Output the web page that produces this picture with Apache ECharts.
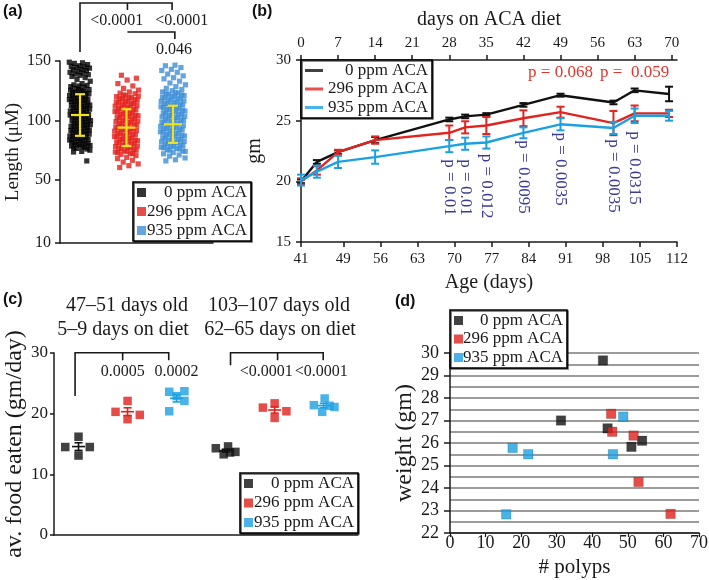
<!DOCTYPE html>
<html><head><meta charset="utf-8">
<script src="https://cdn.jsdelivr.net/npm/echarts@6/dist/echarts.min.js"></script>
<style>html,body{margin:0;padding:0;background:#fff}#c{width:709px;height:580px}</style>
</head><body><div id="c"></div>
<script>
// ================= DATA =================
const groups = ['0 ppm ACA', '296 ppm ACA', '935 ppm ACA'];

// (a) cell length (μM), individual measurements
const lengthTicks = [10, 50, 100, 150];
const length0 = [149,148.5,148,147,146,145.5,145,144.5,144,143,142.5,142,141,140.5,140,139,138.5,138,137,136,134.5,133,131,130,129.5,129,128.5,128,
127,126,125,124,123,122,121,120,119,118,117,116,115,114,113,112,111,110,109,108,107,106,105,104,103,102,101,100,99,98,97,96,95,94,93,92,91,90,89,88,87,86,85,84,83,82,81,80,79,78,77,76,
126.5,125.5,124.5,123.5,122.5,121.5,120.5,119.5,118.5,117.5,116.5,115.5,114.5,113.5,112.5,111.5,110.5,109.5,108.5,107.5,106.5,105.5,104.5,103.5,102.5,101.5,100.5,99.5,98.5,97.5,96.5,95.5,94.5,93.5,92.5,91.5,90.5,89.5,88.5,87.5,86.5,85.5,84.5,83.5,82.5,81.5,80.5,79.5,78.5,77.5,76.5,
75,74,73.5,66];
const length296 = [138,135.5,134,131,129,127,125.5,124,123,122.5,
121,120,119,118,117,116,115,114,113,112,111,110,109,108,107,106,105,104,103,102,101,100,99,98,97,96,95,94,93,92,91,90,89,88,87,86,85,84,83,82,81,80,79,78,77,76,75,74,73,72,
121.5,120.5,119.5,118.5,117.5,116.5,115.5,114.5,113.5,112.5,111.5,110.5,109.5,108.5,107.5,106.5,105.5,104.5,103.5,102.5,101.5,100.5,99.5,98.5,97.5,96.5,95.5,94.5,93.5,92.5,91.5,90.5,89.5,88.5,87.5,86.5,85.5,84.5,83.5,82.5,81.5,80.5,79.5,78.5,77.5,76.5,75.5,74.5,73.5,72.5,71.5,
70.5,69,68,66.5,65,63.5,62,60.5];
const length935 = [146.5,146,144.5,143,142,140.5,139,137.5,136,135,133,131.5,130,128.5,127,126,125,
124,123,122,121,120,119,118,117,116,115,114,113,112,111,110,109,108,107,106,105,104,103,102,101,100,99,98,97,96,95,94,93,92,91,90,89,88,87,86,85,84,83,82,81,80,79,78,77,76,75,74,
123.5,122.5,121.5,120.5,119.5,118.5,117.5,116.5,115.5,114.5,113.5,112.5,111.5,110.5,109.5,108.5,107.5,106.5,105.5,104.5,103.5,102.5,101.5,100.5,99.5,98.5,97.5,96.5,95.5,94.5,93.5,92.5,91.5,90.5,89.5,88.5,87.5,86.5,85.5,84.5,83.5,82.5,81.5,80.5,79.5,78.5,77.5,76.5,75.5,74.5,
73,72,71,70,68.5,67,66];
const lengthMean = [104.6, 94.0, 96.8];
const lengthSD = [17.5, 15.5, 15.6];
const lengthPvals = ['<0.0001', '<0.0001', '0.046'];

// (b) body weight (gm) over time
const ageTicks = [41, 49, 56, 63, 70, 77, 84, 91, 98, 105, 112];
const dietDayTicks = [0, 7, 14, 21, 28, 35, 42, 49, 56, 63, 70];
const weighAges = [41, 44, 48, 55, 69, 72, 76, 83, 90, 100, 104, 110.5];
const weight0   = [20.0, 21.6, 22.4, 23.4, 25.1, 25.35, 25.5, 26.3, 27.1, 26.5, 27.5, 27.2];
const weight0Err   = [0.15, 0.15, 0.15, 0.25, 0.15, 0.15, 0.12, 0.15, 0.12, 0.15, 0.15, 0.6];
const weight296 = [20.0, 20.9, 22.4, 23.4, 24.0, 24.45, 24.6, 25.2, 25.7, 24.8, 25.6, 25.6];
const weight296Err = [0.25, 0.35, 0.2, 0.3, 0.6, 0.5, 0.7, 0.65, 0.45, 1.0, 0.65, 0.3];
const weight935 = [20.1, 20.8, 21.6, 22.0, 22.9, 23.1, 23.2, 24.0, 24.7, 24.4, 25.4, 25.4];
const weight935Err = [0.45, 0.5, 0.5, 0.55, 0.5, 0.5, 0.5, 0.45, 0.5, 0.5, 0.6, 0.4];
const weightPAges = [69, 72, 76, 83, 90, 100, 104];
const weightPvals = ['p = 0.01', 'p = 0.01', 'p = 0.012', 'p = 0.0095', 'p = 0.0035', 'p = 0.0035', 'p = 0.0315'];
const weightTopPAges = [90, 104];
const weightTopPvals = ['p = 0.068', 'p =  0.059'];

// (c) average food eaten (gm/day)
const foodPeriods = [['47\u201351 days old', '5\u20139 days on diet'], ['103\u2013107 days old', '62\u201365 days on diet']];
const food0Early   = [14.5, 16.2, 13.1, 14.5];
const food296Early = [20.3, 22.1, 19.1, 19.8];
const food935Early = [23.6, 23.7, 20.4, 22.1, 22.9];
const food0Late    = [14.3, 14.6, 13.3, 13.7, 13.6];
const food296Late  = [21.0, 21.7, 19.3, 20.4];
const food935Late  = [21.4, 20.3, 22.5, 21.1, 21.3];
const foodPvals = [['0.0005', '0.0002'], ['<0.0001', '<0.0001']];

// (d) weight vs number of polyps
const polyps0   = [43.0, 31.2, 44.3, 54.0, 51.0];
const weightD0  = [29.67, 27.0, 26.65, 26.1, 25.83];
const polyps296 = [45.3, 45.6, 51.6, 53.0, 62.0];
const weightD296 = [27.3, 26.5, 26.33, 24.27, 22.85];
const polyps935 = [48.7, 17.6, 22.0, 45.8, 15.8];
const weightD935 = [27.17, 25.78, 25.5, 25.5, 22.83];

// ================= LAYOUT / STYLE =================
const SERIF = '"Liberation Serif","Times New Roman",serif';
const SANS = '"Liberation Sans",Arial,sans-serif';
const INK = '#1a1a1a';
const colA = ['#000000', '#e3201b', '#3d8fd6'];
const colB = ['#111111', '#e22420', '#1ba1e2'];
const colC = ['#111111', '#e0201c', '#1ba0e2'];
const YELLOW = '#f1e11c';
const PURPLE = '#3c3c98';
const PRED = '#e2352c';
const LENGTH_AXIS_FLOOR = -3; // broken axis: the "10" tick sits at the stretched bottom
const spreadA = [0.23, 0.26, 0.27];
const foodSpreadEarly = [[-0.27, 0, 0, 0.23], [-0.245, 0, 0, 0.25], [-0.15, 0.16, -0.15, 0.16, 0]];
const foodSpreadLate = [[-0.2, 0.05, -0.04, 0.2, 0.09], [-0.24, 0, 0, 0.24], [-0.2, -0.03, 0.02, 0.22, 0.12]];
// annotation geometry in data units
const aBrackets = {
  lines: [[[1, 157.6], [1, 198.7], [2.98, 198.7], [2.98, 192.9]], [[2.02, 198.7], [2.02, 192.9]], [[2.02, 174.4], [3.04, 174.4], [3.04, 168.5]]],
  labels: [[1.79, 183.6], [3.19, 183.6], [3.02, 159]]
};
const cBrackets = {
  lines: [[[0.93, 22.9], [0.93, 30.03], [2.84, 30.03], [2.84, 28.8]], [[1.90, 30.03], [1.90, 28.8]],
          [[4.10, 28.0], [4.10, 30.03], [5.99, 30.03], [5.99, 28.8]], [[5.06, 30.03], [5.06, 28.8]]],
  labels: [[1.90, 26.85], [3.00, 26.85], [4.83, 26.85], [5.95, 26.85]]
};
const weightPY = [19.49, 19.49, 19.6, 20.36, 21.0, 20.44, 21.1];
const weightTopPY = 29.0;

function swarm(i, seed) { const p = (i * 0.6180339887 + seed) % 1; return p * 2 - 1; }
const axisLineS = { show: true, onZero: false, lineStyle: { color: INK, width: 1.5 } };
function lab(size, margin, extra) { return Object.assign({ fontFamily: SERIF, fontSize: size, color: INK, margin: margin }, extra || {}); }
function nameStyle(size) { return { fontFamily: SERIF, fontSize: size, color: INK }; }

// ================= SERIES =================
const series = [];
// (a)
[length0, length296, length935].forEach((arr, g) => series.push({
  type: 'scatter', name: groups[g], xAxisIndex: 0, yAxisIndex: 0, symbol: 'rect', symbolSize: 5.2, silent: true, z: 2,
  itemStyle: { color: colA[g] },
  data: arr.map((v, i) => [g + 1 + swarm(i, g * 0.29) * spreadA[g], v])
}));
series.push({
  type: 'custom', xAxisIndex: 0, yAxisIndex: 0, z: 5, silent: true,
  data: lengthMean.map((m, g) => [g + 1, m, lengthSD[g]]),
  renderItem(params, api) {
    const x = api.value(0), m = api.value(1), s = api.value(2);
    const c = api.coord([x, m]), t = api.coord([x, m + s]), b = api.coord([x, m - s]);
    const st = { stroke: YELLOW, lineWidth: 2.2 };
    return { type: 'group', children: [
      { type: 'line', shape: { x1: c[0], y1: t[1], x2: c[0], y2: b[1] }, style: st },
      { type: 'line', shape: { x1: c[0] - 9, y1: c[1], x2: c[0] + 9, y2: c[1] }, style: st },
      { type: 'line', shape: { x1: c[0] - 5, y1: t[1], x2: c[0] + 5, y2: t[1] }, style: st },
      { type: 'line', shape: { x1: c[0] - 5, y1: b[1], x2: c[0] + 5, y2: b[1] }, style: st }] };
  }
});
function bracketSeries(xi, yi, spec, texts, fontSize) {
  return {
    type: 'custom', xAxisIndex: xi, yAxisIndex: yi, silent: true, z: 6, data: [[spec.labels[0][0], spec.labels[0][1]]],
    renderItem(params, api) {
      const children = [];
      spec.lines.forEach(pts => children.push({ type: 'polyline', shape: { points: pts.map(p => api.coord(p)) }, style: { stroke: INK, lineWidth: 1.6, fill: null } }));
      spec.labels.forEach((l, k) => { const p = api.coord(l); children.push({ type: 'text', x: p[0], y: p[1], style: { text: texts[k], fill: INK, fontSize: fontSize, fontFamily: SERIF, align: 'center', verticalAlign: 'middle' } }); });
      return { type: 'group', children };
    }
  };
}
series.push(bracketSeries(0, 0, aBrackets, lengthPvals, 16));

// (b)
const wData = [weight0, weight296, weight935];
const wErr = [weight0Err, weight296Err, weight935Err];
function errBar(color, cap, lw) {
  return function (params, api) {
    const x = api.value(0), v = api.value(1), e = api.value(2);
    const t = api.coord([x, v + e]), b = api.coord([x, v - e]);
    const st = { stroke: color, lineWidth: lw };
    return { type: 'group', children: [
      { type: 'line', shape: { x1: t[0], y1: t[1], x2: b[0], y2: b[1] }, style: st },
      { type: 'line', shape: { x1: t[0] - cap, y1: t[1], x2: t[0] + cap, y2: t[1] }, style: st },
      { type: 'line', shape: { x1: b[0] - cap, y1: b[1], x2: b[0] + cap, y2: b[1] }, style: st }] };
  };
}
wData.forEach((arr, g) => {
  series.push({ type: 'line', name: groups[g], xAxisIndex: 1, yAxisIndex: 1, symbol: 'none', z: 3 + g, silent: true,
    lineStyle: { width: 2.4, color: colB[g] }, itemStyle: { color: colB[g] },
    data: weighAges.map((a, i) => [a, arr[i]]) });
  series.push({ type: 'custom', xAxisIndex: 1, yAxisIndex: 1, z: 3 + g, silent: true,
    data: weighAges.map((a, i) => [a, arr[i], wErr[g][i]]), renderItem: errBar(colB[g], 4, 2) });
});
series.push({ type: 'custom', xAxisIndex: 1, yAxisIndex: 1, z: 8, silent: true,
  data: weightPAges.map((a, i) => [a, weightPY[i], i]),
  renderItem(params, api) {
    const p = api.coord([api.value(0), api.value(1)]);
    return { type: 'text', x: p[0], y: p[1], rotation: -Math.PI / 2,
      style: { text: weightPvals[api.value(2)], fill: PURPLE, fontSize: 17, fontFamily: SERIF, align: 'center', verticalAlign: 'middle' } };
  } });
series.push({ type: 'custom', xAxisIndex: 1, yAxisIndex: 1, z: 8, silent: true,
  data: weightTopPAges.map((a, i) => [a, weightTopPY, i]),
  renderItem(params, api) {
    const p = api.coord([api.value(0), api.value(1)]);
    return { type: 'text', x: p[0], y: p[1],
      style: { text: weightTopPvals[api.value(2)], fill: PRED, fontSize: 17, fontFamily: SERIF, align: 'center', verticalAlign: 'middle' } };
  } });

// (c)
const foodEarly = [food0Early, food296Early, food935Early];
const foodLate = [food0Late, food296Late, food935Late];
function meanSem(arr) {
  const n = arr.length, m = arr.reduce((a, b) => a + b, 0) / n;
  const sd = Math.sqrt(arr.reduce((a, b) => a + (b - m) * (b - m), 0) / (n - 1));
  return [m, sd / Math.sqrt(n)];
}
groups.forEach((n, g) => series.push({
  type: 'scatter', name: n, xAxisIndex: 3, yAxisIndex: 2, symbol: 'rect', symbolSize: 8.5, silent: true, z: 2,
  itemStyle: { color: colC[g] },
  data: foodEarly[g].map((v, i) => [g + 1 + foodSpreadEarly[g][i], v]).concat(foodLate[g].map((v, i) => [g + 4 + foodSpreadLate[g][i], v]))
}));
const foodStats = [];
groups.forEach((n, g) => {
  const e = meanSem(foodEarly[g]), l = meanSem(foodLate[g]);
  foodStats.push([g + 1, e[0], e[1], g]);
  foodStats.push([g + 4, l[0], l[1], g]);
});
series.push({ type: 'custom', xAxisIndex: 3, yAxisIndex: 2, z: 5, silent: true, data: foodStats,
  renderItem(params, api) {
    const x = api.value(0), m = api.value(1), s = api.value(2), g = api.value(3);
    const c = api.coord([x, m]), t = api.coord([x, m + s]), b = api.coord([x, m - s]);
    const st = { stroke: colC[g], lineWidth: 1.6 };
    return { type: 'group', children: [
      { type: 'line', shape: { x1: c[0], y1: t[1], x2: c[0], y2: b[1] }, style: st },
      { type: 'line', shape: { x1: c[0] - 6.5, y1: c[1], x2: c[0] + 6.5, y2: c[1] }, style: st },
      { type: 'line', shape: { x1: c[0] - 4, y1: t[1], x2: c[0] + 4, y2: t[1] }, style: st },
      { type: 'line', shape: { x1: c[0] - 4, y1: b[1], x2: c[0] + 4, y2: b[1] }, style: st }] };
  } });
series.push(bracketSeries(3, 2, cBrackets, [foodPvals[0][0], foodPvals[0][1], foodPvals[1][0], foodPvals[1][1]], 16));

// (d)
[[polyps0, weightD0], [polyps296, weightD296], [polyps935, weightD935]].forEach((pair, g) => series.push({
  type: 'scatter', name: groups[g], xAxisIndex: 4, yAxisIndex: 3, symbol: 'rect', symbolSize: 9.5, silent: true, z: 4,
  itemStyle: { color: colC[g], borderColor: 'rgba(0,0,0,0.35)', borderWidth: 0.6 },
  data: pair[0].map((p, i) => [p, pair[1][i]])
}));

// ================= LEGENDS =================
function mkLegend(left, top, icon, iw, ih, colors, gap, textW) {
  return {
    left: left, top: top, orient: 'vertical', itemWidth: iw, itemHeight: ih, itemGap: gap, padding: [2, 4, 2, 4],
    backgroundColor: '#fff', borderColor: '#000', borderWidth: 1.6, selectedMode: false, z: 20,
    shadowColor: 'rgba(0,0,0,0.6)', shadowOffsetX: 1, shadowOffsetY: 1, shadowBlur: 0,
    data: groups.map((n, i) => ({ name: n, icon: icon, itemStyle: { color: colors[i], borderWidth: 0 } })),
    formatter: n => '{t|' + n + '}',
    textStyle: { fontFamily: SERIF, fontSize: 17, color: INK,
      rich: { t: { width: textW, align: 'right', fontSize: 17, fontFamily: SERIF, color: INK, lineHeight: 18 } } }
  };
}

const option = {
  animation: false,
  backgroundColor: '#fff',
  textStyle: { fontFamily: SERIF },
  grid: [
    { left: 60, top: 61, width: 153, height: 182, containLabel: false, outerBoundsMode: 'none' },
    { left: 301, top: 60, width: 376, height: 182, containLabel: false, outerBoundsMode: 'none' },
    { left: 54, top: 353, width: 304, height: 182, containLabel: false, outerBoundsMode: 'none' },
    { left: 450, top: 353, width: 249, height: 180, containLabel: false, outerBoundsMode: 'none' }
  ],
  xAxis: [
    { gridIndex: 0, type: 'value', min: 0.57, max: 3.86, axisLine: axisLineS, axisTick: { show: false }, axisLabel: { show: false }, splitLine: { show: false } },
    { gridIndex: 1, type: 'value', position: 'bottom', min: 41, max: 112, axisLine: axisLineS,
      axisTick: { customValues: ageTicks, length: 5, lineStyle: { color: INK, width: 1.5 } },
      axisLabel: lab(15, 10, { customValues: ageTicks }), splitLine: { show: false },
      name: 'Age (days)', nameLocation: 'middle', nameGap: 31, nameTextStyle: nameStyle(20) },
    { gridIndex: 1, type: 'value', position: 'top', min: 0, max: 71, axisLine: axisLineS,
      axisTick: { customValues: dietDayTicks, length: 5, lineStyle: { color: INK, width: 1.5 } },
      axisLabel: lab(15, 9, { customValues: dietDayTicks }), splitLine: { show: false },
      name: 'days on ACA diet', nameLocation: 'middle', nameGap: 30, nameTextStyle: nameStyle(20) },
    { gridIndex: 2, type: 'value', min: 0.5, max: 6.7, axisLine: axisLineS, axisTick: { show: false }, axisLabel: { show: false }, splitLine: { show: false } },
    { gridIndex: 3, type: 'value', min: 0, max: 70, interval: 10, axisLine: axisLineS,
      axisTick: { length: 4, lineStyle: { color: INK, width: 1.2 } }, axisLabel: lab(18, 1), splitLine: { show: false },
      name: '# polyps', nameLocation: 'middle', nameGap: 24, nameTextStyle: nameStyle(21) }
  ],
  yAxis: [
    { gridIndex: 0, type: 'value', min: LENGTH_AXIS_FLOOR, max: 150, axisLine: axisLineS,
      axisTick: { customValues: lengthTicks.map(t => t === lengthTicks[0] ? LENGTH_AXIS_FLOOR : t), length: 5, lineStyle: { color: INK, width: 1.5 } },
      axisLabel: lab(16, 9, { customValues: lengthTicks.map(t => t === lengthTicks[0] ? LENGTH_AXIS_FLOOR : t),
        formatter: v => v === LENGTH_AXIS_FLOOR ? String(lengthTicks[0]) : String(v) }),
      splitLine: { show: false },
      name: 'Length (\u03bcM)', nameLocation: 'middle', nameGap: 37, nameTextStyle: nameStyle(19) },
    { gridIndex: 1, type: 'value', min: 15, max: 30, interval: 5, axisLine: axisLineS,
      axisTick: { length: 5, lineStyle: { color: INK, width: 1.5 } }, axisLabel: lab(15, 10), splitLine: { show: false },
      name: 'gm', nameLocation: 'middle', nameGap: 32, nameTextStyle: nameStyle(20) },
    { gridIndex: 2, type: 'value', min: 0, max: 30, interval: 10, axisLine: axisLineS,
      axisTick: { length: 4, lineStyle: { color: INK, width: 1.5 } }, axisLabel: lab(17, 6), splitLine: { show: false },
      name: 'av. food eaten (gm/day)', nameLocation: 'middle', nameGap: 27, nameTextStyle: nameStyle(24) },
    { gridIndex: 3, type: 'value', min: 22, max: 30, interval: 1, axisLine: axisLineS, z: 3,
      axisTick: { length: 6, lineStyle: { color: INK, width: 1.5 } }, axisLabel: lab(18, 11), splitLine: { show: false },
      name: 'weight (gm)', nameLocation: 'middle', nameGap: 28, nameTextStyle: nameStyle(24) },
    { gridIndex: 3, type: 'value', min: 22, max: 30, interval: 0.5, axisLine: { show: false }, axisTick: { show: false }, axisLabel: { show: false },
      splitLine: { show: true, lineStyle: { color: '#9c9c9c', width: 1.8 } } }
  ],
  legend: [
    mkLegend(133, 182, 'rect', 9, 9, colA, 2, 96),
    mkLegend(301, 60, 'rect', 18, 3, colB, 1.5, 100),
    mkLegend(240, 473, 'rect', 9, 9, colC, 2.5, 96),
    mkLegend(450, 310, 'rect', 9, 9, colC, 1.5, 95)
  ],
  graphic: [
    { type: 'text', x: 3, y: 4, style: { text: '(a)', font: 'bold 16px ' + SANS, fill: '#111' } },
    { type: 'text', x: 252, y: 4, style: { text: '(b)', font: 'bold 16px ' + SANS, fill: '#111' } },
    { type: 'text', x: 3, y: 292, style: { text: '(c)', font: 'bold 16px ' + SANS, fill: '#111' } },
    { type: 'text', x: 395, y: 294, style: { text: '(d)', font: 'bold 16px ' + SANS, fill: '#111' } },
    { type: 'text', x: 127, y: 306, style: { text: foodPeriods[0][0], fontSize: 20, fontFamily: SERIF, fill: INK, align: 'center', verticalAlign: 'middle' } },
    { type: 'text', x: 123, y: 330, style: { text: foodPeriods[0][1], fontSize: 20, fontFamily: SERIF, fill: INK, align: 'center', verticalAlign: 'middle' } },
    { type: 'text', x: 279, y: 306, style: { text: foodPeriods[1][0], fontSize: 20, fontFamily: SERIF, fill: INK, align: 'center', verticalAlign: 'middle' } },
    { type: 'text', x: 280, y: 330, style: { text: foodPeriods[1][1], fontSize: 20, fontFamily: SERIF, fill: INK, align: 'center', verticalAlign: 'middle' } }
  ],
  series: series
};
const chart = echarts.init(document.getElementById('c'), null, { renderer: 'canvas' });
chart.setOption(option);
</script></body></html>
